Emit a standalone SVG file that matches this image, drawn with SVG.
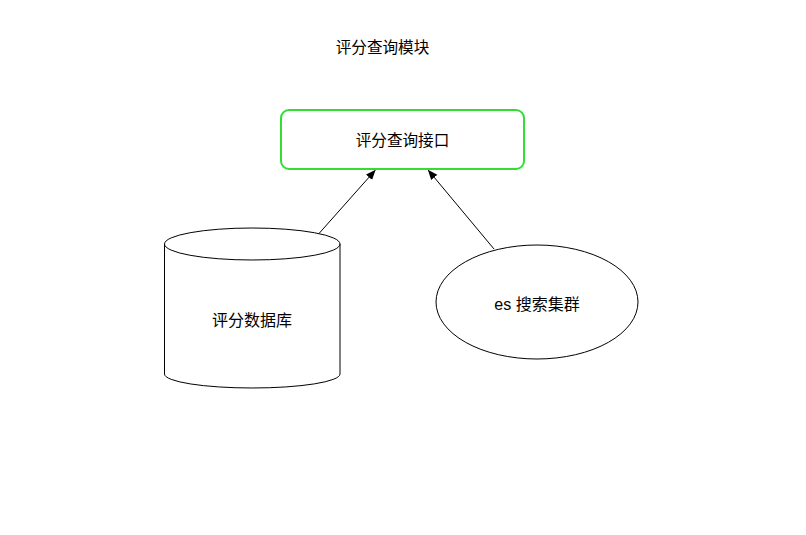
<svg xmlns="http://www.w3.org/2000/svg" width="806" height="535" viewBox="0 0 806 535">
<defs>
<style>
text{font-family:"Liberation Sans","Noto Sans CJK SC",sans-serif;font-size:15.6px;fill:#000;text-anchor:middle;dominant-baseline:central}
.big{font-size:16px}
.shape{fill:#fff;stroke:#000;stroke-width:1}
.edge{fill:none;stroke:#000;stroke-width:1}
</style>
<marker id="arr" markerWidth="10" markerHeight="10" refX="9" refY="5" orient="auto" markerUnits="userSpaceOnUse">
<path d="M0,1 L10,5 L0,9 Z" fill="#000"/>
</marker>
</defs>
<rect width="806" height="535" fill="#fff"/>
<g id="title"><text x="382.5" y="47">评分查询模块</text></g>
<g id="api">
<rect x="281" y="110" width="243" height="59" rx="8" ry="8" fill="#fff" stroke="#33dd33" stroke-width="2"/>
<text x="402.5" y="140">评分查询接口</text>
</g>
<g id="db">
<path class="shape" d="M164.5,244 A87.75,16 0 0 1 340,244 L340,374 A87.75,14 0 0 1 164.5,374 Z"/>
<path class="edge" d="M164.5,244 A87.75,16 0 0 0 340,244"/>
<text class="big" x="252" y="320">评分数据库</text>
</g>
<g id="es">
<ellipse class="shape" cx="537" cy="302" rx="101" ry="57"/>
<text class="big" x="537" y="304">es 搜索集群</text>
</g>
<g id="connectors">
<line class="edge" x1="319" y1="233.5" x2="375" y2="170.5" marker-end="url(#arr)"/>
<line class="edge" x1="494" y1="249" x2="428.5" y2="170.5" marker-end="url(#arr)"/>
</g>
</svg>
